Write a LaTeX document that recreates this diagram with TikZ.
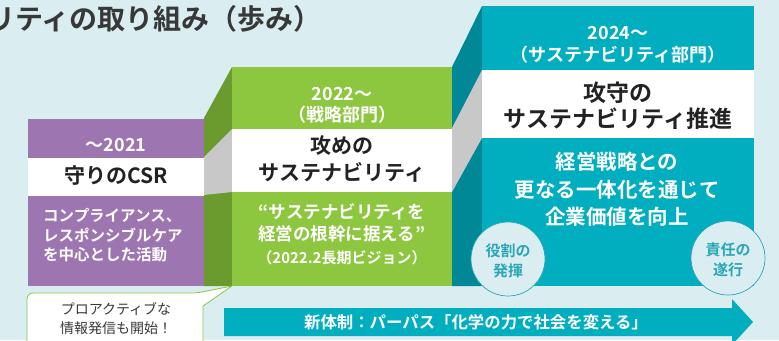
\documentclass[tikz,border=0pt]{standalone}
\usepackage{fontspec}
\setmainfont{Noto Sans CJK JP}[BoldFont=Noto Sans CJK JP Bold]
\newfontfamily\jpp{Noto Sans CJK JP}[BoldFont=Noto Sans CJK JP Bold]
\definecolor{bg}{HTML}{DAEEF2}
\definecolor{purp}{HTML}{9D75B0}
\definecolor{grn}{HTML}{8DC63F}
\definecolor{dgrn}{HTML}{6B9A2F}
\definecolor{teal1}{HTML}{00AEC0}
\definecolor{dteal}{HTML}{008896}
\definecolor{gry}{HTML}{C8C8C8}
\definecolor{ink}{HTML}{222222}
\definecolor{ctext}{HTML}{2AA6B6}
\newcommand\fsz[1]{\fontsize{#1}{#1}\selectfont}
\tikzset{
  wt/.style={inner sep=0pt, text=white, font=\jpp\bfseries},
  bk/.style={inner sep=0pt, text=ink, font=\jpp\bfseries},
  circ/.style={circle, draw=ctext, line width=0.7pt, fill=bg, minimum size=74pt, inner sep=0pt},
}
\begin{document}
\begin{tikzpicture}[x=1pt,y=-1pt]
\useasboundingbox (0,0) rectangle (779,340);
\clip (0,0) rectangle (779,340);
\fill[bg] (0,0) rectangle (779,340);
% title
\node[anchor=west, inner sep=0pt, text=ink!90, font=\jpp\bfseries\fsz{28}] (title) at (-13,19) {リティの取り組み（歩み）};
% purple block
\fill[purp] (28,119) rectangle (204,286);
\fill[white] (28,158) rectangle (204,196);
% green side
\fill[dgrn] (204,118) -- (232,67) -- (232,286) -- (204,286) -- cycle;
\fill[gry] (204,157) -- (232,129) -- (232,192) -- (204,195) -- cycle;
% green front
\fill[grn] (232,67) rectangle (452,286);
\fill[white] (232,129) rectangle (452,192);
% teal side
\fill[dteal] (452,67) -- (482,6) -- (482,286) -- (452,286) -- cycle;
\fill[gry] (452,128) -- (482,70) -- (482,138) -- (452,192) -- cycle;
% teal front
\fill[teal1] (482,6) rectangle (754,286);
\fill[white] (482,70) rectangle (754,138);
% purple texts
\node[wt, font=\jpp\bfseries\fsz{18}] (p1) at (116,145) {～2021};
\node[bk, font=\jpp\bfseries\fsz{21}] (p2) at (116,176) {守りのCSR};
\node[wt, anchor=west, font=\jpp\bfseries\fsz{15.5}] (p3) at (43,215) {コンプライアンス、};
\node[wt, anchor=west, font=\jpp\bfseries\fsz{15.5}] (p4) at (43,235) {レスポンシブルケア};
\node[wt, anchor=west, font=\jpp\bfseries\fsz{15.5}] (p5) at (43,255) {を中心とした活動};
% green texts
\node[wt, font=\jpp\bfseries\fsz{18}] (g1) at (342,94) {2022～};
\node[wt, font=\jpp\bfseries\fsz{18}] (g2) at (342,115) {（戦略部門）};
\node[bk, font=\jpp\bfseries\fsz{21}] (g3) at (342,146) {攻めの};
\node[bk, font=\jpp\bfseries\fsz{21}] (g4) at (342,172) {サステナビリティ};
\node[wt, font=\jpp\bfseries\fsz{17.5}] (g5) at (342,212) {“サステナビリティを};
\node[wt, font=\jpp\bfseries\fsz{17.5}] (g6) at (342,234) {経営の根幹に据える”};
\node[wt, font=\jpp\bfseries\fsz{15}] (g7) at (342,258) {（2022.2長期ビジョン）};
% teal texts
\node[wt, font=\jpp\bfseries\fsz{18}] (t1) at (618,33) {2024～};
\node[wt, font=\jpp\bfseries\fsz{18}] (t2) at (618,55) {（サステナビリティ部門）};
\node[bk, font=\jpp\bfseries\fsz{23}] (t3) at (618,93) {攻守の};
\node[bk, font=\jpp\bfseries\fsz{23}] (t4) at (618,119) {サステナビリティ推進};
\node[wt, font=\jpp\bfseries\fsz{20.5}] (t5) at (617,162) {経営戦略との};
\node[wt, font=\jpp\bfseries\fsz{20.5}] (t6) at (617,190) {更なる一体化を通じて};
\node[wt, font=\jpp\bfseries\fsz{20.5}] (t7) at (617,217) {企業価値を向上};
% circles
\node[circ] (c1) at (508,259) {};
\node[text=ctext, inner sep=0pt, font=\jpp\bfseries\fsz{15}] (c1a) at (508,251) {役割の};
\node[text=ctext, inner sep=0pt, font=\jpp\bfseries\fsz{15}] (c1b) at (508,271) {発揮};
\node[circ] (c2) at (728,258) {};
\node[text=ctext, inner sep=0pt, font=\jpp\bfseries\fsz{15}] (c2a) at (728,250) {責任の};
\node[text=ctext, inner sep=0pt, font=\jpp\bfseries\fsz{15}] (c2b) at (728,270) {遂行};
% arrow
\fill[teal1] (224,308) -- (732,308) -- (732,299) -- (753,322) -- (732,345) -- (732,336) -- (224,336) -- cycle;
\node[wt, font=\jpp\bfseries\fsz{16.4}] (arr) at (476,322) {新体制：パーパス「化学の力で社会を変える」};
% callout
\filldraw[fill=white, draw=grn, line width=0.8pt] (27,370) [rounded corners=6pt] -- (27,293) -- (197,293) [sharp corners] -- (232,286) -- (203,306) -- (203,370);
\node[inner sep=0pt, text=ink!90, font=\jpp\fsz{14}] (co1) at (116,309) {プロアクティブな};
\node[inner sep=0pt, text=ink!90, font=\jpp\fsz{14}] (co2) at (116,328) {情報発信も開始！};
\end{tikzpicture}
\end{document}
